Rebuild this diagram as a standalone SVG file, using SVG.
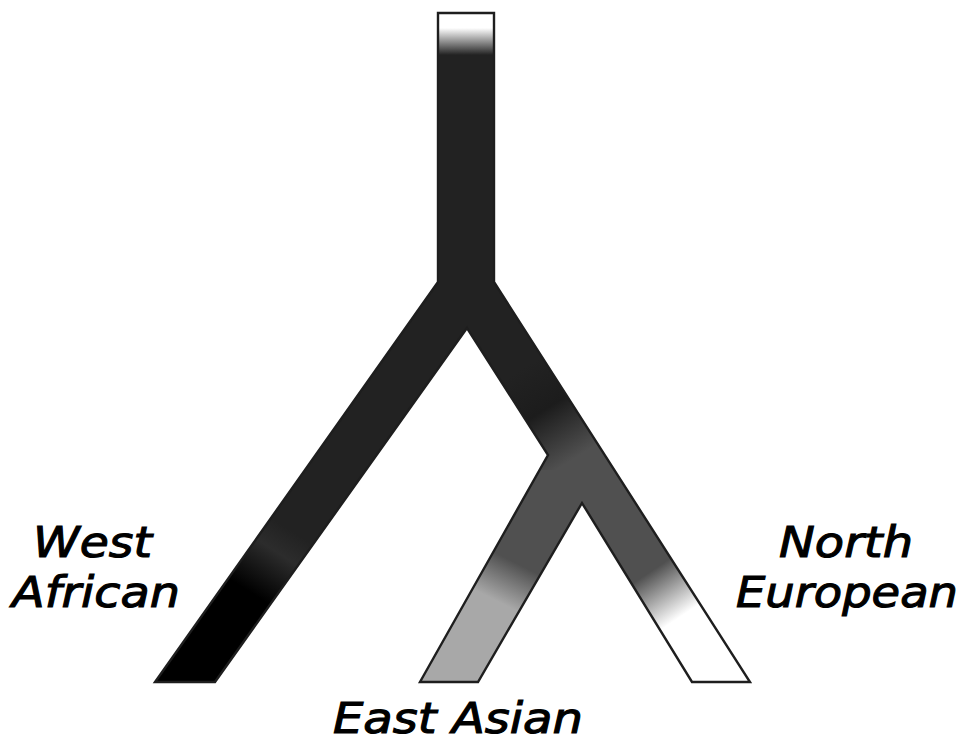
<svg xmlns="http://www.w3.org/2000/svg" width="963" height="740" viewBox="0 0 963 740">
  <style>
    .lbl { font-family: "DejaVu Sans", "Liberation Sans", sans-serif; font-style: oblique; font-size: 42px; fill: #000; stroke: #000; stroke-width: 1.1; }
    .outline { fill: none; stroke: #1e1e1e; stroke-width: 2.4; stroke-linejoin: miter; }
  </style>
  <defs>
    <clipPath id="treeClip">
      <path id="treeShape" d="M438,13 L494,13 L494,282 L750,682 L692,682 L582,503 L478,682 L420,682 L548,455 L467,328 L215,682 L155,682 L438,282 Z"/>
    </clipPath>
    <linearGradient id="gTrunk" gradientUnits="userSpaceOnUse" x1="0" y1="28" x2="0" y2="55">
      <stop offset="0" stop-color="#ffffff"/>
      <stop offset="1" stop-color="#222222"/>
    </linearGradient>
    <linearGradient id="gWest" gradientUnits="userSpaceOnUse" x1="290" y1="530" x2="250" y2="592">
      <stop offset="0" stop-color="#222222"/>
      <stop offset="0.35" stop-color="#2c2c2c"/>
      <stop offset="1" stop-color="#000000"/>
    </linearGradient>
    <linearGradient id="gRight" gradientUnits="userSpaceOnUse" x1="520" y1="370" x2="575" y2="458">
      <stop offset="0" stop-color="#222222"/>
      <stop offset="0.45" stop-color="#1c1c1c"/>
      <stop offset="1" stop-color="#505050"/>
    </linearGradient>
    <linearGradient id="gNorth" gradientUnits="userSpaceOnUse" x1="650" y1="572" x2="680" y2="617">
      <stop offset="0" stop-color="#505050"/>
      <stop offset="1" stop-color="#ffffff"/>
    </linearGradient>
    <linearGradient id="gEast" gradientUnits="userSpaceOnUse" x1="514" y1="562" x2="495" y2="600">
      <stop offset="0" stop-color="#505050"/>
      <stop offset="1" stop-color="#a8a8a8"/>
    </linearGradient>
  </defs>

  <g id="tree" clip-path="url(#treeClip)">
    <g id="ancestor">
      <rect x="100" y="0" width="700" height="740" fill="#222222"/>
      <rect x="420" y="0" width="100" height="56" fill="url(#gTrunk)"/>
    </g>
    <g id="west-african-branch">
      <polygon points="467,300 467,330 360,740 100,740 100,300" fill="url(#gWest)"/>
    </g>
    <g id="eurasian-branch">
      <polygon points="467,328 467,300 800,300 800,740 400,740" fill="url(#gRight)"/>
    </g>
    <g id="north-european-branch">
      <polygon points="582,503 582,480 800,480 800,740 560,740" fill="url(#gNorth)"/>
    </g>
    <g id="east-asian-branch">
      <polygon points="582,503 560,740 380,740 380,470 582,470" fill="url(#gEast)"/>
    </g>
  </g>

  <g id="connectors">
    <use href="#treeShape" class="outline"/>
  </g>

  <g id="label-west-african">
    <text class="lbl" x="33" y="557" textLength="119" lengthAdjust="spacingAndGlyphs">West</text>
    <text class="lbl" x="12" y="607" textLength="168" lengthAdjust="spacingAndGlyphs">African</text>
  </g>
  <g id="label-north-european">
    <text class="lbl" x="779" y="557" textLength="134" lengthAdjust="spacingAndGlyphs">North</text>
    <text class="lbl" x="736" y="607" textLength="222" lengthAdjust="spacingAndGlyphs">European</text>
  </g>
  <g id="label-east-asian">
    <text class="lbl" x="333" y="733" textLength="250" lengthAdjust="spacingAndGlyphs">East Asian</text>
  </g>
</svg>
